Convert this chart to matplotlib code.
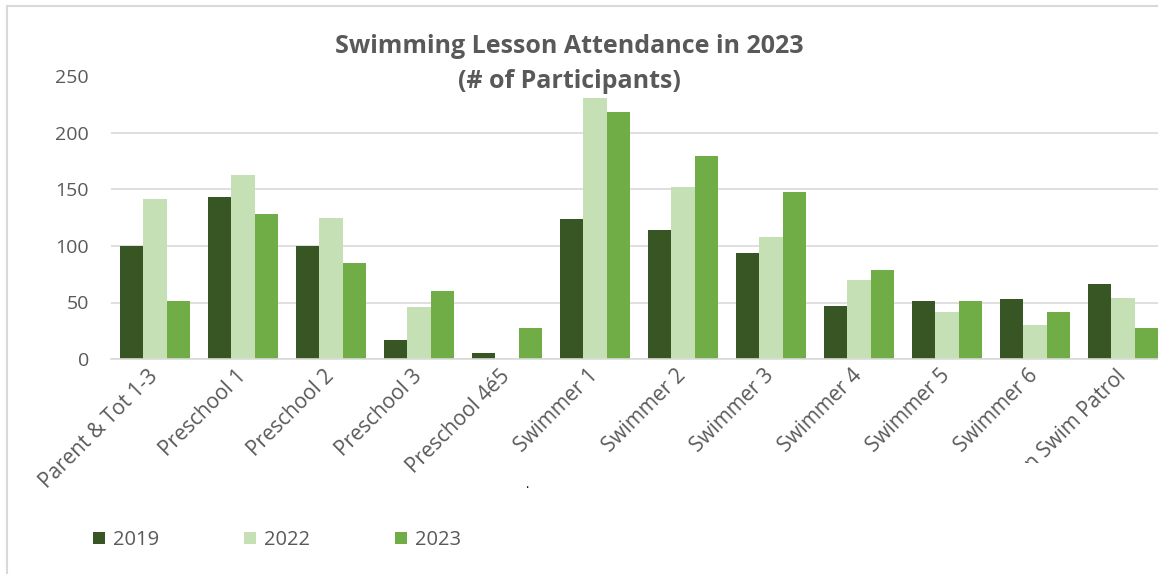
# %% Imports

import numpy as np
import matplotlib.pyplot as plt
from matplotlib.transforms import Bbox, TransformedBbox

plt.rcParams['font.family'] = ['Open Sans', 'DejaVu Sans']

# %% Data

categories = ['Parent & Tot 1-3', 'Preschool 1', 'Preschool 2', 'Preschool 3',
              'Preschool 4é5', 'Swimmer 1', 'Swimmer 2', 'Swimmer 3',
              'Swimmer 4', 'Swimmer 5', 'Swimmer 6', 'Canadian Swim Patrol']
years = ['2019', '2022', '2023']
vals_2019 = [100, 143, 100, 17, 5, 124, 114, 94, 47, 51, 53, 66]
vals_2022 = [142, 163, 125, 46, 0, 231, 152, 108, 70, 42, 30, 54]
vals_2023 = [51, 128, 85, 60, 27, 219, 180, 148, 79, 51, 42, 27]
colors = ['#375623', '#C5E0B4', '#70AD47']
y_ticks = [0, 50, 100, 150, 200, 250]

# %% Plot

W, H = 1158, 574
fig = plt.figure(figsize=(W / 100, H / 100), dpi=100)
ax = fig.add_axes([111 / W, 1 - 359 / H, 1056 / W, (359 - 76.5) / H])

x = np.arange(len(categories))
bw = 0.268
for i, (vals, lab) in enumerate(zip([vals_2019, vals_2022, vals_2023], years)):
    ax.bar(x + (i - 1) * bw, vals, width=bw, color=colors[i], label=lab, zorder=3)

ax.set_xlim(-0.5, len(categories) - 0.5)
ax.set_ylim(0, 250)
ax.set_yticks(y_ticks)
ax.yaxis.grid(True, color='#D9D9D9', lw=1.2, zorder=0)
for s in ['top', 'right', 'left']:
    ax.spines[s].set_visible(False)
ax.spines['bottom'].set_color('#D9D9D9')
ax.spines['bottom'].set_linewidth(1.2)
ax.spines['bottom'].set_zorder(4)
ax.tick_params(axis='y', length=0, pad=16, labelsize=14, labelcolor='#595959')
ax.tick_params(axis='x', length=0, pad=10, labelsize=15, labelcolor='#595959')
ax.set_xticks(x)
ax.set_xticklabels(categories, rotation=45, ha='right', va='center',
                   rotation_mode='anchor')

# last label is cut off in the original
clip = TransformedBbox(Bbox([[0, 1 - 463 / H], [1, 1]]), fig.transFigure)
lbl = ax.get_xticklabels()[-1]
lbl.set_clip_box(clip)
lbl.set_clip_on(True)

fig.text(569 / W, 1 - 64 / H, 'Swimming Lesson Attendance in 2023\n(# of Participants)',
         ha='center', va='center', fontsize=18, fontweight='bold',
         color='#595959', linespacing=1.5)

fig.text(527 / W, 1 - 485 / H, '.', ha='center', va='center', fontsize=9, color='black')

# chart border
fig.add_artist(plt.Line2D([7 / W, 7 / W], [0, 1 - 6 / H], color='#D9D9D9', lw=1.5))
fig.add_artist(plt.Line2D([7 / W, 1], [1 - 6 / H, 1 - 6 / H], color='#D9D9D9', lw=1.5))

fig.legend(loc='center left', bbox_to_anchor=(75 / W, 1 - 540 / H), ncol=3,
           frameon=False, fontsize=14.5, labelcolor='#595959',
           handlelength=0.6, handleheight=0.6, handletextpad=0.4,
           columnspacing=4.2)

fig.savefig('out.png', dpi=100)
